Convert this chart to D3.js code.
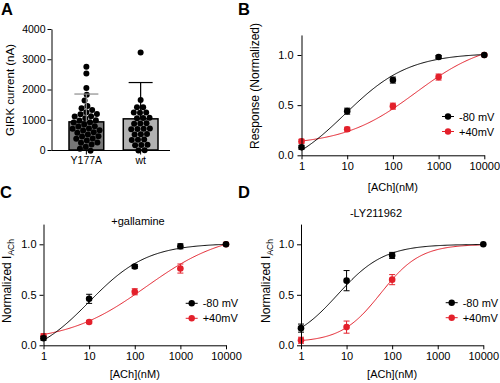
<!DOCTYPE html>
<html><head><meta charset="utf-8">
<script src="https://cdn.jsdelivr.net/npm/d3@7"></script>
<style>
body{margin:0;background:#fff;}
svg{display:block;font-family:"Liberation Sans",Arial,sans-serif;}
.axis path,.axis line{stroke:#000;stroke-width:1;}
.axis text{fill:#000;}
</style></head><body>
<svg id="c" width="500" height="383"></svg>
<script>
// ---------- DATA ----------
// Panel A
const groupsA = ["Y177A", "wt"];
const barMeansA = [930, 1030];
const barSDA = [920, 1200];
const pointsY177A = [2750, 2530, 2050, 1800, 1600, 1350, 1250, 1200, 1180, 1150, 1100, 1050, 1000, 980, 950, 920, 900, 870, 850, 800, 780, 750, 700, 680, 650, 600, 580, 550, 520, 500, 450, 400, 380, 350, 300, 250, 200, 150, 100];
const pointsWt = [3220, 1650, 1360, 1320, 1290, 1250, 1230, 1000, 980, 950, 920, 880, 800, 780, 700, 650, 620, 560, 520, 480, 420, 380, 300, 250, 200, 150, 100, 80];
const yTicksA = [0, 1000, 2000, 3000, 4000];

// Concentration-response panels
const conc = [1, 10, 100, 1000, 10000];
const xTickLabels = ["1", "10", "100", "1000", "10000"];
const yTicksN = [0, 0.5, 1.0];
const seriesNames = ["-80 mV", "+40mV"];

const B_m80 = [0.08, 0.44, 0.75, 0.98, 1.0];
const B_m80_err = [0.02, 0.03, 0.03, 0.015, 0];
const B_p40 = [0.14, 0.26, 0.49, 0.78, 1.0];
const B_p40_err = [0.02, 0.02, 0.03, 0.03, 0];

const C_m80 = [0.07, 0.46, 0.78, 0.98, 1.0];
const C_m80_err = [0.02, 0.045, 0.02, 0.025, 0];
const C_p40 = [0.09, 0.23, 0.53, 0.76, 1.0];
const C_p40_err = [0.025, 0.015, 0.03, 0.045, 0];

const D_conc_m80 = [1, 10, 100, 10000];
const D_m80 = [0.17, 0.64, 0.89, 1.0];
const D_m80_err = [0.04, 0.1, 0.03, 0];
const D_conc_p40 = [1, 10, 100];
const D_p40 = [0.05, 0.18, 0.65];
const D_p40_err = [0.03, 0.06, 0.05];

// Hill fit parameters: [bottom, top, logEC50, hillSlope]
const fitB_m80 = [-0.2, 1.02, 0.95, 0.62];
const fitB_p40 = [0.1, 1.15, 2.5, 0.55];
const fitC_m80 = [-0.15, 1.01, 1.0, 0.68];
const fitC_p40 = [0.03, 1.13, 2.25, 0.5];
const fitD_m80 = [0.0, 1.0, 0.8, 0.85];
const fitD_p40 = [0.03, 1.0, 1.75, 1.0];

// ---------- DRAW ----------
const BLACK = "#000", RED = "#e3202b";
const svg = d3.select("#c");
const FONT = "Liberation Sans, Arial, sans-serif";

function letter(t, x, y) {
  svg.append("text").attr("x", x).attr("y", y).attr("font-size", 16.5).attr("font-weight", "bold").text(t);
}
letter("A", 1, 15); letter("B", 238, 15); letter("C", 0, 198); letter("D", 238, 198);

// ----- Panel A -----
(function () {
  const y = d3.scaleLinear().domain([0, 4000]).range([150, 29]);
  const x = d3.scaleBand().domain(groupsA).range([69, 158]).paddingInner(0.36).paddingOuter(0);
  const g = svg.append("g");
  const fills = ["#777777", "#b2b2b2"];
  const ebColors = ["#8c8c8c", "#000"];
  g.selectAll("rect.bar").data(groupsA).join("rect")
    .attr("x", d => x(d)).attr("width", x.bandwidth())
    .attr("y", (d, i) => y(barMeansA[i])).attr("height", (d, i) => y(0) - y(barMeansA[i]))
    .attr("fill", (d, i) => fills[i]).attr("stroke", "#000").attr("stroke-width", 1.5);

  const sets = [pointsY177A, pointsWt];
  sets.forEach((vals, gi) => {
    const cx = x(groupsA[gi]) + x.bandwidth() / 2;
    const nodes = vals.map(v => ({ v, x: cx, y: y(v), ty: y(v) }));
    const sim = d3.forceSimulation(nodes)
      .force("x", d3.forceX(cx).strength(0.25))
      .force("y", d3.forceY(d => d.ty).strength(0.6))
      .force("c", d3.forceCollide(3.1))
      .stop();
    for (let i = 0; i < 300; i++) sim.tick();
    g.selectAll(null).data(nodes).join("circle")
      .attr("cx", d => d.x).attr("cy", d => d.y).attr("r", 3).attr("fill", "#000");
    const top = y(barMeansA[gi] + barSDA[gi]);
    g.append("line").attr("x1", cx).attr("x2", cx).attr("y1", y(barMeansA[gi])).attr("y2", top)
      .attr("stroke", ebColors[gi]).attr("stroke-width", 1.2);
    g.append("line").attr("x1", cx - 12).attr("x2", cx + 12).attr("y1", top).attr("y2", top)
      .attr("stroke", ebColors[gi]).attr("stroke-width", 1.2);
  });

  const ya = g.append("g").attr("class", "axis").attr("transform", "translate(51.5,0)")
    .call(d3.axisLeft(y).tickValues(yTicksA).tickFormat(d3.format("d")).tickSize(4).tickPadding(2).tickSizeOuter(0));
  ya.selectAll("text").attr("font-size", 10.5).attr("font-family", FONT);
  g.append("line").attr("x1", 51.5).attr("x2", 170).attr("y1", 150.5).attr("y2", 150.5).attr("stroke", "#000");
  const xa = g.append("g").attr("class", "axis").attr("transform", "translate(0,150.5)")
    .call(d3.axisBottom(x).tickSize(4).tickPadding(2).tickSizeOuter(0));
  xa.select("path").remove();
  xa.selectAll("text").attr("font-size", 10.5).attr("font-family", FONT);
  g.append("text").attr("transform", "translate(14,90) rotate(-90)").attr("text-anchor", "middle")
    .attr("font-size", 11.5).text("GIRK current (nA)");
})();

// ----- Dose response panels -----
function hill(p, lx) { return p[0] + (p[1] - p[0]) / (1 + Math.pow(10, (p[2] - lx) * p[3])); }

function drPanel(cfg) {
  const x = d3.scaleLog().domain([1, 10000]).range([cfg.x0, cfg.x1]);
  const y = d3.scaleLinear().domain([0, 1.2]).range([cfg.y0, cfg.y0 - 1.2 * cfg.ppu]);
  const g = svg.append("g");

  cfg.series.slice().reverse().forEach(s => {
    const lx = d3.range(0, 4.0001, 0.02);
    const line = d3.line().x(d => x(Math.pow(10, d))).y(d => y(hill(s.fit, d)));
    g.append("path").attr("d", line(lx)).attr("fill", "none").attr("stroke", s.color).attr("stroke-width", 1);
    s.conc.forEach((c, i) => {
      const v = s.vals[i], e = s.err[i];
      if (e > 0) {
        g.append("line").attr("x1", x(c)).attr("x2", x(c)).attr("y1", y(v - e)).attr("y2", y(v + e)).attr("stroke", s.color).attr("stroke-width", 1);
        [v - e, v + e].forEach(w => g.append("line").attr("x1", x(c) - 3).attr("x2", x(c) + 3).attr("y1", y(w)).attr("y2", y(w)).attr("stroke", s.color).attr("stroke-width", 1));
      }
      g.append("circle").attr("cx", x(c)).attr("cy", y(v)).attr("r", 3.3).attr("fill", s.color);
    });
  });

  const xa = g.append("g").attr("class", "axis").attr("transform", `translate(0,${cfg.y0})`)
    .call(d3.axisBottom(x).tickValues(conc).tickFormat((d, i) => xTickLabels[i]).tickSize(4).tickPadding(3).tickSizeOuter(0));
  xa.selectAll("text").attr("font-size", 11).attr("font-family", FONT);
  const ya = g.append("g").attr("class", "axis").attr("transform", `translate(${cfg.x0},0)`)
    .call(d3.axisLeft(y).tickValues(yTicksN).tickFormat(d3.format(".1f")).tickSize(4).tickPadding(cfg.yPad).tickSizeOuter(0));
  ya.selectAll("text").attr("font-size", 11).attr("font-family", FONT);

  g.append("text").attr("x", (cfg.x0 + cfg.x1) / 2).attr("y", cfg.xlabY).attr("text-anchor", "middle")
    .attr("font-size", 11).text("[ACh](nM)");

  const yl = g.append("text").attr("transform", `translate(${cfg.ylabX},${cfg.ylabY}) rotate(-90)`)
    .attr("text-anchor", "middle").attr("font-size", 12);
  if (cfg.sub) {
    yl.append("tspan").text("Normalized I");
    yl.append("tspan").attr("font-size", 8.5).attr("dy", 3).text("ACh");
  } else yl.text(cfg.ylab);

  if (cfg.title) g.append("text").attr("x", cfg.title[1]).attr("y", cfg.title[2]).attr("text-anchor", "middle")
    .attr("font-size", 11).text(cfg.title[0]);

  cfg.series.forEach((s, i) => {
    const ly = cfg.legY + i * 15;
    g.append("line").attr("x1", cfg.legX - 6).attr("x2", cfg.legX + 6).attr("y1", ly).attr("y2", ly).attr("stroke", s.color);
    g.append("circle").attr("cx", cfg.legX).attr("cy", ly).attr("r", 3.2).attr("fill", s.color);
    g.append("text").attr("x", cfg.legX + 11).attr("y", ly + 4).attr("font-size", 11).text(seriesNames[i]);
  });
}

drPanel({
  x0: 301.5, x1: 484.3, y0: 155.3, ppu: 100.3, yPad: 4,
  xlabY: 191, ylabX: 259, ylabY: 86, ylab: "Response (Normalized)",
  legX: 448, legY: 116.5,
  series: [
    { conc: conc, vals: B_m80, err: B_m80_err, fit: fitB_m80, color: BLACK },
    { conc: conc, vals: B_p40, err: B_p40_err, fit: fitB_p40, color: RED }
  ]
});
drPanel({
  x0: 43.5, x1: 226, y0: 345.3, ppu: 101, yPad: 3,
  xlabY: 378, ylabX: 11, ylabY: 281, sub: true, title: ["+gallamine", 138, 225],
  legX: 191.7, legY: 303.3,
  series: [
    { conc: conc, vals: C_m80, err: C_m80_err, fit: fitC_m80, color: BLACK },
    { conc: conc, vals: C_p40, err: C_p40_err, fit: fitC_p40, color: RED }
  ]
});
drPanel({
  x0: 301, x1: 483.3, y0: 345.3, ppu: 101, yPad: 3,
  xlabY: 378, ylabX: 270, ylabY: 281, sub: true, title: ["-LY211962", 376, 217],
  legX: 451.7, legY: 302.7,
  series: [
    { conc: D_conc_m80, vals: D_m80, err: D_m80_err, fit: fitD_m80, color: BLACK },
    { conc: D_conc_p40, vals: D_p40, err: D_p40_err, fit: fitD_p40, color: RED }
  ]
});
</script></body></html>
